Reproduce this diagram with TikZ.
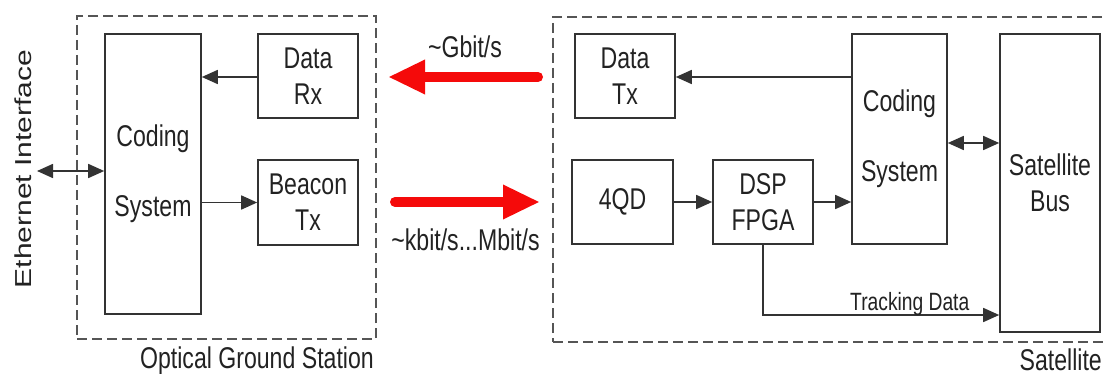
\documentclass[tikz,border=0pt]{standalone}
\usepackage{fontspec}
\usepackage{graphicx}
\newfontfamily\mainf[FakeStretch=0.77]{Liberation Sans}
\newfontfamily\plainf{Liberation Sans}
\usetikzlibrary{arrows.meta}
\definecolor{ln}{HTML}{333333}
\definecolor{tx}{HTML}{222222}
\definecolor{dsh}{HTML}{555555}
\definecolor{rd}{HTML}{F50A0A}
\begin{document}
\begin{tikzpicture}[x=1pt,y=-1pt,
  every node/.style={font=\mainf\fontsize{30}{36}\selectfont, text=tx, inner sep=0pt},
  box/.style={draw=ln, line width=1.6pt, align=center},
  grp/.style={draw=dsh, line width=1.5pt, dash pattern=on 10pt off 5pt},
  arr/.style={draw=ln, line width=1.6pt, -{Triangle[length=16pt,width=14pt]}},
  darr/.style={draw=ln, line width=1.6pt, {Triangle[length=16pt,width=14pt]}-{Triangle[length=16pt,width=14pt]}},
  big/.style={draw=rd, line width=10pt, line cap=round, -{Triangle[length=37pt,width=32pt]}},
]
\useasboundingbox (0,0) rectangle (1105,374);

% groups
\node[grp, minimum width=299pt, minimum height=323pt] (ogs) at (226.5,177.5) {};
\node[grp, minimum width=562pt, minimum height=325pt] (sat) at (834,179.5) {};
\node[anchor=base east] (ogsl) at (374,368) {Optical Ground Station};
\node[anchor=base east] (satl) at (1102,370) {Satellite};

% ground station
\node[box, minimum width=96pt, minimum height=280pt] (lcode) at (153,174) {Coding\\[34pt]System};
\node[box, minimum width=100pt, minimum height=84pt] (datarx) at (308,76) {Data\\Rx};
\node[box, minimum width=100pt, minimum height=85pt] (beacon) at (308,202.5) {Beacon\\Tx};
\node (eth) at (23.5,169) {\scalebox{0.77}[1]{\rotatebox{90}{\plainf\fontsize{30}{36}\selectfont Ethernet Interface}}};
\coordinate (ethend) at (37,171);

% satellite
\node[box, minimum width=100pt, minimum height=84pt] (datatx) at (625,76) {Data\\Tx};
\node[box, minimum width=101pt, minimum height=84pt] (qd) at (622.5,202) {4QD};
\node[box, minimum width=100pt, minimum height=84pt] (dsp) at (763,202) {DSP\\FPGA};
\node[box, minimum width=95pt, minimum height=210pt] (rcode) at (899.5,139) {Coding\\[34pt]System};
\node[box, minimum width=100pt, minimum height=298pt] (bus) at (1050,183) {Satellite\\Bus};

% links
\coordinate (gtail) at (538,77);
\coordinate (gtip) at (388,77);
\coordinate (ktail) at (395,202);
\coordinate (ktip) at (540,202);
\draw[big] (gtail) -- (gtip);
\draw[big] (ktail) -- (ktip);
\node (gl) at (465,58) [anchor=base] {\textasciitilde Gbit/s};
\node (kl) at (465.5,250) [anchor=base] {\textasciitilde kbit/s...Mbit/s};

% connectors
\draw[arr] ([yshift=-1pt]datarx.west) -- ([yshift=-1pt]datarx.west -| lcode.east);
\draw[arr] (beacon.west -| lcode.east) -- (beacon.west);
\draw[darr] (ethend) -- (ethend -| lcode.west);
\draw[arr] ([yshift=-1pt]datatx.east -| rcode.west) -- ([yshift=-1pt]datatx.east);
\draw[arr] (qd.east) -- (dsp.west);
\draw[arr] (dsp.east) -- (dsp.east -| rcode.west);
\draw[darr] ([yshift=-4pt]rcode.east) -- ([yshift=-4pt]rcode.east -| bus.west);
\draw[arr] (dsp.south) |- ([yshift=-132pt]bus.west);
\node[anchor=base west, font=\mainf\fontsize{25}{30}\selectfont] (trk) at (850,310) {Tracking Data};
\end{tikzpicture}
\end{document}
